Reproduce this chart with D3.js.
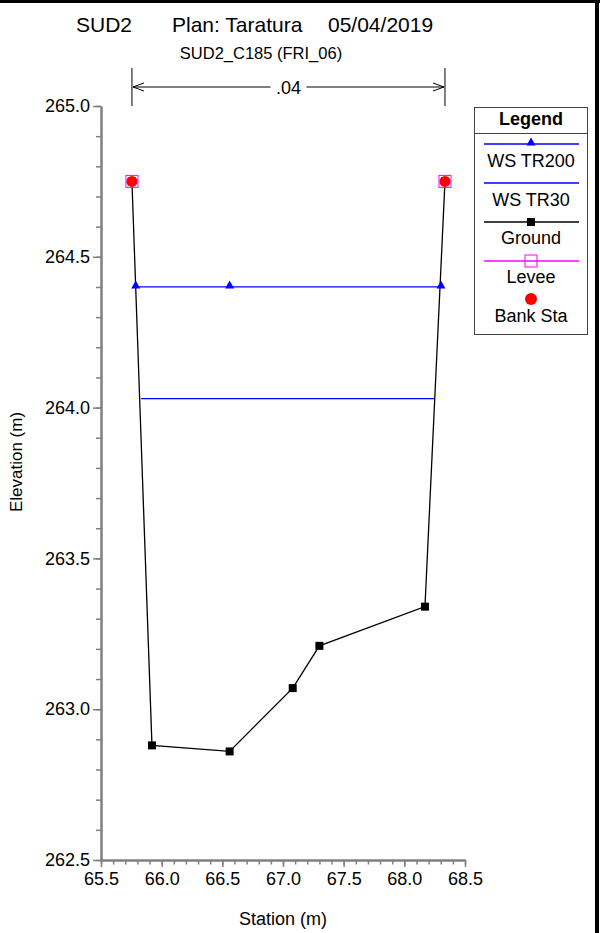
<!DOCTYPE html>
<html>
<head>
<meta charset="utf-8">
<script src="https://cdn.jsdelivr.net/npm/d3@7"></script>
<style>
body{margin:0;background:#fff;}
svg{display:block;font-family:Arial,"Liberation Sans",sans-serif;}
</style>
</head>
<body>
<div id="chart"></div>
<script>
// cross section data
var groundSta  = [65.755, 65.92, 66.56, 67.08, 67.30, 68.17, 68.335];
var groundElev = [264.75, 262.88, 262.86, 263.07, 263.21, 263.34, 264.75];

var ws200Sta  = [65.786, 66.56, 68.302];
var ws200Elev = [264.40, 264.40, 264.40];

var ws30Sta  = [65.83, 68.245];
var ws30Elev = [264.03, 264.03];

var leveeSta  = [65.755, 68.335];
var leveeElev = [264.75, 264.75];

var bankSta  = [65.755, 68.335];
var bankElev = [264.75, 264.75];

var nValues = [".04"];
var nBounds = [65.755, 68.335];

var xMajor = [65.5, 66.0, 66.5, 67.0, 67.5, 68.0, 68.5];
var xTickLabels = ["65.5", "66.0", "66.5", "67.0", "67.5", "68.0", "68.5"];
var yMajor = [262.5, 263.0, 263.5, 264.0, 264.5, 265.0];
var yTickLabels = ["262.5", "263.0", "263.5", "264.0", "264.5", "265.0"];

var legendNames = ["WS TR200", "WS TR30", "Ground", "Levee", "Bank Sta"];

var W = 600, H = 933;

var svg = d3.select("#chart").append("svg")
    .attr("width", W).attr("height", H);

var xScale = d3.scaleLinear().domain([65.5, 68.5]).range([101, 465]);
var yScale = d3.scaleLinear().domain([262.5, 265.0]).range([860, 106]);

// frame (top and right only)
svg.append("line").attr("x1", 0).attr("x2", W).attr("y1", 1.5).attr("y2", 1.5)
    .attr("stroke", "#000").attr("stroke-width", 3);
svg.append("line").attr("x1", 597).attr("x2", 597).attr("y1", 0).attr("y2", H)
    .attr("stroke", "#000").attr("stroke-width", 4);

// titles
var title = svg.append("g").attr("font-size", 21).attr("fill", "#000");
title.append("text").attr("x", 76).attr("y", 32).text("SUD2");
title.append("text").attr("x", 172).attr("y", 32).text("Plan: Taratura");
title.append("text").attr("x", 328).attr("y", 32).text("05/04/2019");
svg.append("text").attr("x", 261).attr("y", 59).attr("text-anchor", "middle")
    .attr("font-size", 16.5).text("SUD2_C185 (FRI_06)");

// manning's n dimension line
var dim = svg.append("g").attr("stroke", "#000").attr("stroke-width", 1);
nBounds.forEach(function(s){
    dim.append("line").attr("x1", xScale(s)).attr("x2", xScale(s))
        .attr("y1", 68).attr("y2", 106);
});
var dx0 = xScale(nBounds[0]), dx1 = xScale(nBounds[1]), dy = 87;
var mid = (dx0 + dx1) / 2;
dim.append("line").attr("x1", dx0 + 1).attr("x2", mid - 18).attr("y1", dy).attr("y2", dy);
dim.append("line").attr("x1", mid + 18).attr("x2", dx1 - 1).attr("y1", dy).attr("y2", dy);
dim.append("path").attr("fill", "none")
    .attr("d", "M" + (dx0 + 12) + "," + (dy - 4) + "L" + (dx0 + 1) + "," + dy + "L" + (dx0 + 12) + "," + (dy + 4));
dim.append("path").attr("fill", "none")
    .attr("d", "M" + (dx1 - 12) + "," + (dy - 4) + "L" + (dx1 - 1) + "," + dy + "L" + (dx1 - 12) + "," + (dy + 4));
svg.append("text").attr("x", mid).attr("y", 94).attr("text-anchor", "middle")
    .attr("font-size", 18).text(nValues[0]);

// axes
var axisColor = "#808080";
var xMinor = d3.range(0, 31).map(function(i){ return 65.5 + i * 0.1; });
var yMinor = d3.range(0, 26).map(function(i){ return 262.5 + i * 0.1; });

function styleAxis(g){
    g.select(".domain").attr("stroke", axisColor).attr("stroke-width", 2);
    g.selectAll(".tick line").attr("stroke", axisColor).attr("stroke-width", 1.5);
    g.selectAll(".tick text").attr("fill", "#000").attr("font-size", 18)
        .attr("font-family", "Arial, 'Liberation Sans', sans-serif");
}

svg.append("g").attr("transform", "translate(0,860)")
    .call(d3.axisBottom(xScale).tickValues(xMinor).tickSize(4.5).tickSizeOuter(0).tickFormat(""))
    .call(styleAxis);
svg.append("g").attr("transform", "translate(0,860)")
    .call(d3.axisBottom(xScale).tickValues(xMajor).tickSize(7).tickSizeOuter(0).tickPadding(5)
        .tickFormat(function(d, i){ return xTickLabels[i]; }))
    .call(styleAxis);

svg.append("g").attr("transform", "translate(101,0)")
    .call(d3.axisLeft(yScale).tickValues(yMinor).tickSize(5).tickSizeOuter(0).tickFormat(""))
    .call(styleAxis);
svg.append("g").attr("transform", "translate(101,0)")
    .call(d3.axisLeft(yScale).tickValues(yMajor).tickSize(8).tickSizeOuter(0).tickPadding(3)
        .tickFormat(function(d, i){ return yTickLabels[i]; }))
    .call(styleAxis);

svg.append("text").attr("x", 283).attr("y", 925).attr("text-anchor", "middle")
    .attr("font-size", 18).text("Station (m)");
svg.append("text").attr("transform", "translate(22,462) rotate(-90)")
    .attr("text-anchor", "middle").attr("font-size", 17).text("Elevation (m)");

// series
var line = d3.line().x(function(d){ return xScale(d[0]); }).y(function(d){ return yScale(d[1]); });

var ws30 = d3.zip(ws30Sta, ws30Elev);
var ws200 = d3.zip(ws200Sta, ws200Elev);
var ground = d3.zip(groundSta, groundElev);

svg.append("path").datum(ws30).attr("d", line)
    .attr("fill", "none").attr("stroke", "#0000ff").attr("stroke-width", 1.3);
svg.append("path").datum(ws200).attr("d", line)
    .attr("fill", "none").attr("stroke", "#0000ff").attr("stroke-width", 1.3);
svg.append("path").datum(ground).attr("d", line)
    .attr("fill", "none").attr("stroke", "#000").attr("stroke-width", 1.3);

function triPath(x, y){
    return "M" + (x - 4.5) + "," + (y + 1.5) + "L" + (x + 4.5) + "," + (y + 1.5) + "L" + x + "," + (y - 6.5) + "Z";
}

svg.append("g").selectAll("path").data(ws200).join("path")
    .attr("d", function(d){ return triPath(xScale(d[0]), yScale(d[1])); })
    .attr("fill", "#0000ff");

svg.append("g").selectAll("rect").data(ground).join("rect")
    .attr("x", function(d){ return xScale(d[0]) - 4; })
    .attr("y", function(d){ return yScale(d[1]) - 4; })
    .attr("width", 8).attr("height", 8).attr("fill", "#000");

svg.append("g").selectAll("rect").data(d3.zip(leveeSta, leveeElev)).join("rect")
    .attr("x", function(d){ return xScale(d[0]) - 6; })
    .attr("y", function(d){ return yScale(d[1]) - 6; })
    .attr("width", 12).attr("height", 12)
    .attr("fill", "none").attr("stroke", "#ff00ff").attr("stroke-width", 1);

svg.append("g").selectAll("circle").data(d3.zip(bankSta, bankElev)).join("circle")
    .attr("cx", function(d){ return xScale(d[0]); })
    .attr("cy", function(d){ return yScale(d[1]); })
    .attr("r", 5.5).attr("fill", "#ff0000");

// legend
var lg = svg.append("g");
lg.append("rect").attr("x", 474.5).attr("y", 107.5).attr("width", 113).attr("height", 227)
    .attr("fill", "#fff").attr("stroke", "#444").attr("stroke-width", 1);
lg.append("line").attr("x1", 474.5).attr("x2", 587.5).attr("y1", 133.5).attr("y2", 133.5)
    .attr("stroke", "#444");
lg.append("text").attr("x", 531).attr("y", 125).attr("text-anchor", "middle")
    .attr("font-size", 18).attr("font-weight", "bold").text("Legend");

var lineYs = [144, 183, 222, 261, 299];
var textYs = [167, 206, 244, 283, 322];
var lcx = 531;

lg.append("line").attr("x1", 484).attr("x2", 579).attr("y1", lineYs[0]).attr("y2", lineYs[0])
    .attr("stroke", "#0000ff").attr("stroke-width", 1.3);
lg.append("path").attr("d", triPath(lcx, lineYs[0])).attr("fill", "#0000ff");
lg.append("line").attr("x1", 484).attr("x2", 579).attr("y1", lineYs[1]).attr("y2", lineYs[1])
    .attr("stroke", "#0000ff").attr("stroke-width", 1.3);
lg.append("line").attr("x1", 484).attr("x2", 579).attr("y1", lineYs[2]).attr("y2", lineYs[2])
    .attr("stroke", "#000").attr("stroke-width", 1.3);
lg.append("rect").attr("x", lcx - 4).attr("y", lineYs[2] - 4).attr("width", 8).attr("height", 8).attr("fill", "#000");
lg.append("line").attr("x1", 484).attr("x2", 579).attr("y1", lineYs[3]).attr("y2", lineYs[3])
    .attr("stroke", "#ff00ff").attr("stroke-width", 1.3);
lg.append("rect").attr("x", lcx - 6).attr("y", lineYs[3] - 6).attr("width", 12).attr("height", 12)
    .attr("fill", "none").attr("stroke", "#ff00ff").attr("stroke-width", 1);
lg.append("circle").attr("cx", lcx).attr("cy", lineYs[4]).attr("r", 6).attr("fill", "#ff0000");

lg.selectAll("text.item").data(legendNames).join("text")
    .attr("class", "item")
    .attr("x", lcx).attr("y", function(d, i){ return textYs[i]; })
    .attr("text-anchor", "middle").attr("font-size", 18).text(function(d){ return d; });
</script>
</body>
</html>
